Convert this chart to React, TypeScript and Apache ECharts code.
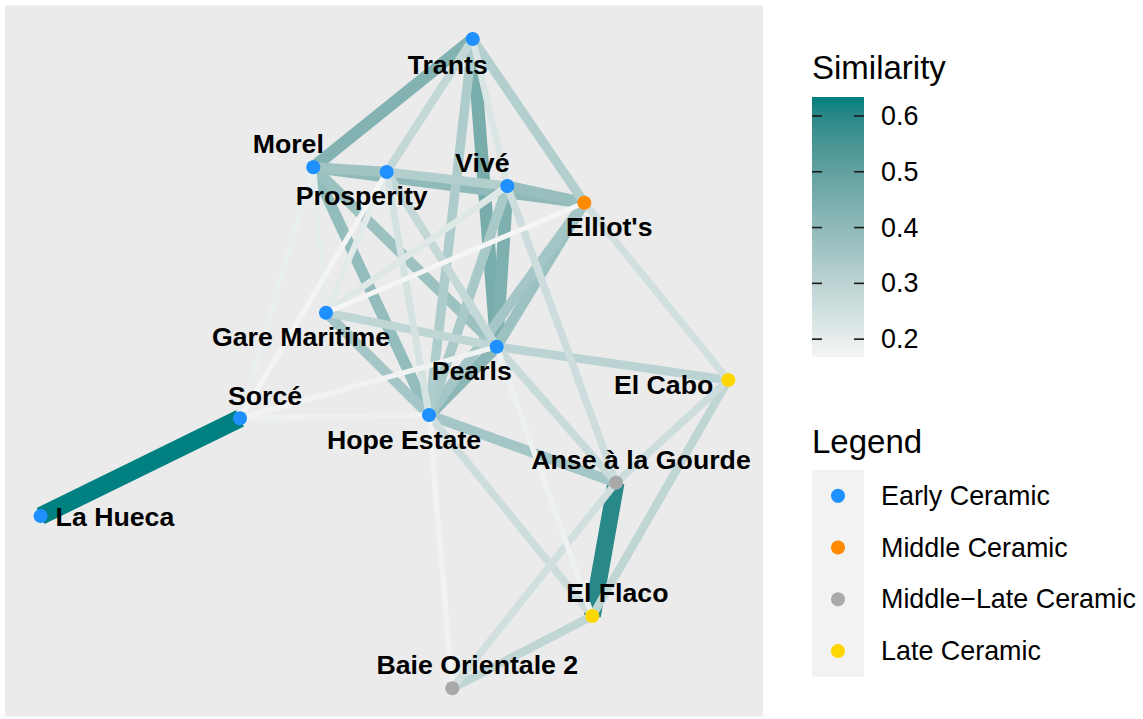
import React, { useEffect, useRef } from "react";
import * as echarts from "echarts";

// ---------- data ----------
const nodeNames = [
  "Trants", "Morel", "Prosperity", "Vivé", "Elliot's", "Gare Maritime", "Pearls",
  "El Cabo", "Sorcé", "Hope Estate", "Anse à la Gourde", "La Hueca", "El Flaco", "Baie Orientale 2",
];
// layout coordinates of the graph
const nodeX = [0.887, -0.707, 0.027, 1.233, 2.003, -0.58, 1.127, 3.443, -1.44, 0.45, 2.32, -3.434, 2.083, 0.683];
const nodeY = [3.22, 1.937, 1.89, 1.75, 1.583, 0.483, 0.143, -0.19, -0.573, -0.54, -1.217, -1.55, -2.55, -3.273];
const nodePeriod = [
  "Early Ceramic", "Early Ceramic", "Early Ceramic", "Early Ceramic", "Middle Ceramic", "Early Ceramic",
  "Early Ceramic", "Late Ceramic", "Early Ceramic", "Early Ceramic", "Middle−Late Ceramic", "Early Ceramic",
  "Late Ceramic", "Middle−Late Ceramic",
];
const periods = ["Early Ceramic", "Middle Ceramic", "Middle−Late Ceramic", "Late Ceramic"];

const edgeFrom = [
  "La Hueca", "Anse à la Gourde", "Trants", "Vivé", "Trants", "Pearls", "Morel", "Morel", "Vivé", "Elliot's",
  "Morel", "Morel", "Elliot's", "Gare Maritime", "Hope Estate", "Vivé", "Trants", "Trants", "Prosperity", "Pearls",
  "El Flaco", "El Cabo", "Gare Maritime", "Trants", "Prosperity", "Pearls", "El Cabo", "Vivé", "Hope Estate", "Elliot's",
  "Anse à la Gourde", "Prosperity", "Trants", "Gare Maritime", "Gare Maritime", "Morel", "Morel", "Sorcé", "Pearls",
  "Hope Estate", "Sorcé", "Sorcé", "Elliot's",
];
const edgeTo = [
  "Sorcé", "El Flaco", "Pearls", "Pearls", "Morel", "Hope Estate", "Elliot's", "Hope Estate", "Elliot's", "Pearls",
  "Pearls", "Prosperity", "Hope Estate", "Hope Estate", "Anse à la Gourde", "Hope Estate", "Elliot's", "Hope Estate", "Vivé", "El Cabo",
  "Baie Orientale 2", "El Flaco", "Pearls", "Prosperity", "Pearls", "Anse à la Gourde", "Anse à la Gourde", "Anse à la Gourde", "El Flaco", "El Cabo",
  "Baie Orientale 2", "Hope Estate", "Vivé", "Vivé", "Prosperity", "Gare Maritime", "Sorcé", "Hope Estate", "El Flaco",
  "Baie Orientale 2", "Pearls", "Prosperity", "Gare Maritime",
];
const similarity = [
  0.634, 0.6, 0.45, 0.44, 0.43, 0.41, 0.4, 0.39, 0.38, 0.37,
  0.37, 0.36, 0.35, 0.35, 0.35, 0.34, 0.32, 0.33, 0.32, 0.3,
  0.29, 0.29, 0.29, 0.28, 0.28, 0.27, 0.26, 0.26, 0.26, 0.25,
  0.25, 0.24, 0.23, 0.22, 0.21, 0.2, 0.195, 0.185, 0.185,
  0.178, 0.178, 0.172, 0.168,
];
const colorbarTicks = [0.2, 0.3, 0.4, 0.5, 0.6];

// ---------- styles ----------
const periodColors: Record<string, string> = {
  "Early Ceramic": "#1E90FF",
  "Middle Ceramic": "#FF8C00",
  "Middle−Late Ceramic": "#A9A9A9",
  "Late Ceramic": "#FFD700",
};
const labelNudge: Record<string, { dx: number; dy: number; align?: string }> = {
  "Trants": { dx: -25, dy: 26 },
  "Morel": { dx: -25, dy: -23 },
  "Prosperity": { dx: -25, dy: 24 },
  "Vivé": { dx: -25, dy: -23 },
  "Elliot's": { dx: 25, dy: 24 },
  "Gare Maritime": { dx: -25, dy: 24 },
  "Pearls": { dx: -25, dy: 24 },
  "El Cabo": { dx: -15, dy: 5, align: "right" },
  "Sorcé": { dx: 25, dy: -22 },
  "Hope Estate": { dx: -25, dy: 25 },
  "Anse à la Gourde": { dx: 25, dy: -23 },
  "La Hueca": { dx: 15, dy: 1, align: "left" },
  "El Flaco": { dx: 25, dy: -23 },
  "Baie Orientale 2": { dx: 25, dy: -23 },
};
const FONT = '"Liberation Sans", Arial, Helvetica, sans-serif';
const LOW = "#F5F5F5";
const HIGH = "#008080";

// panel in pixels
const PANEL = { left: 5, top: 5.5, right: 763, bottom: 716.5 };
const X_MIN = -3.79, X_MAX = 3.79, Y_MIN = -3.555, Y_MAX = 3.555;

// ---------- Lab colour interpolation (like scales::seq_gradient_pal) ----------
function hexToRgb(h: string) {
  const n = parseInt(h.slice(1), 16);
  return [(n >> 16) & 255, (n >> 8) & 255, n & 255];
}
function toLin(c: number) {
  c /= 255;
  return c <= 0.04045 ? c / 12.92 : Math.pow((c + 0.055) / 1.055, 2.4);
}
function fromLin(v: number) {
  const c = v <= 0.0031308 ? 12.92 * v : 1.055 * Math.pow(v, 1 / 2.4) - 0.055;
  return Math.round(Math.max(0, Math.min(1, c)) * 255);
}
const XN = 0.95047, YN = 1.0, ZN = 1.08883;
function f(t: number) { return t > 0.008856 ? Math.cbrt(t) : 7.787 * t + 16 / 116; }
function finv(t: number) { const t3 = t * t * t; return t3 > 0.008856 ? t3 : (t - 16 / 116) / 7.787; }
function hexToLab(h: string) {
  const [r8, g8, b8] = hexToRgb(h);
  const r = toLin(r8), g = toLin(g8), b = toLin(b8);
  const X = 0.4124 * r + 0.3576 * g + 0.1805 * b;
  const Y = 0.2126 * r + 0.7152 * g + 0.0722 * b;
  const Z = 0.0193 * r + 0.1192 * g + 0.9505 * b;
  const fx = f(X / XN), fy = f(Y / YN), fz = f(Z / ZN);
  return [116 * fy - 16, 500 * (fx - fy), 200 * (fy - fz)];
}
function labToHex(L: number, a: number, bb: number) {
  const fy = (L + 16) / 116, fx = a / 500 + fy, fz = fy - bb / 200;
  const X = finv(fx) * XN, Y = finv(fy) * YN, Z = finv(fz) * ZN;
  const r = 3.2406 * X - 1.5372 * Y - 0.4986 * Z;
  const g = -0.9689 * X + 1.8758 * Y + 0.0415 * Z;
  const b = 0.0557 * X - 0.204 * Y + 1.057 * Z;
  const hx = (v: number) => fromLin(v).toString(16).padStart(2, "0");
  return "#" + hx(r) + hx(g) + hx(b);
}
const lowLab = hexToLab(LOW), highLab = hexToLab(HIGH);
function gradient(t: number) {
  return labToHex(
    lowLab[0] + (highLab[0] - lowLab[0]) * t,
    lowLab[1] + (highLab[1] - lowLab[1]) * t,
    lowLab[2] + (highLab[2] - lowLab[2]) * t,
  );
}

export default function App() {
  const ref = useRef<HTMLDivElement>(null);
  useEffect(() => {
    if (!ref.current) return;
    const chart = echarts.init(ref.current, undefined, { renderer: "svg" });

    const sMin = Math.min(...similarity), sMax = Math.max(...similarity);
    const norm = (s: number) => (s - sMin) / (sMax - sMin);
    const idx = (n: string) => nodeNames.indexOf(n);

    const edgeData = similarity.map((s, i) => {
      const a = idx(edgeFrom[i]), b = idx(edgeTo[i]);
      return {
        coords: [[nodeX[a], nodeY[a]], [nodeX[b], nodeY[b]]],
        lineStyle: { color: gradient(norm(s)), width: 5 + 13 * norm(s), opacity: 1 },
      };
    });

    const scatterSeries = periods.map((p) => ({
      type: "scatter",
      name: p,
      symbol: "circle",
      symbolSize: 14,
      z: 5,
      silent: true,
      itemStyle: { color: periodColors[p], opacity: 1 },
      label: {
        show: true,
        formatter: "{b}",
        position: "inside",
        verticalAlign: "middle",
        color: "#000",
        fontWeight: "bold",
        fontSize: 26.7,
        fontFamily: FONT,
      },
      data: nodeNames
        .map((n, i) => ({ n, i }))
        .filter(({ i }) => nodePeriod[i] === p)
        .map(({ n, i }) => {
          const nd = labelNudge[n];
          return {
            name: n,
            value: [nodeX[i], nodeY[i]],
            label: { offset: [nd.dx, nd.dy], align: nd.align || "center" },
          };
        }),
    }));

    // colour bar geometry
    const barX = 812, barW = 52, barTop = 97, barBottom = 357;
    const yOf = (v: number) => barTop + ((sMax - v) / (sMax - sMin)) * (barBottom - barTop);
    const stops = [];
    for (let k = 0; k <= 20; k++) {
      const t = k / 20;
      stops.push({ offset: t, color: gradient(1 - t) });
    }
    const txt = (text: string, x: number, y: number, size: number) => ({
      type: "text", x, y,
      style: { text, font: `${size}px ${FONT}`, fill: "#000", align: "left", verticalAlign: "middle", textAlign: "left", textVerticalAlign: "middle" },
    });
    const graphic: any[] = [];
    graphic.push(txt("Similarity", 812, 67.5, 33));
    graphic.push({
      type: "rect", shape: { x: barX, y: barTop, width: barW, height: barBottom - barTop },
      style: { fill: new echarts.graphic.LinearGradient(0, 0, 0, 1, stops) },
    });
    colorbarTicks.forEach((v) => {
      const y = yOf(v);
      graphic.push({ type: "line", shape: { x1: barX, y1: y, x2: barX + 10, y2: y }, style: { stroke: "#1a1a1a", lineWidth: 1.6 } });
      graphic.push({ type: "line", shape: { x1: barX + barW - 10, y1: y, x2: barX + barW, y2: y }, style: { stroke: "#1a1a1a", lineWidth: 1.6 } });
      graphic.push(txt(v.toFixed(1), 881, y, 26.9));
    });

    // categorical legend
    const keyTop = 470, keyH = 51.7;
    graphic.push(txt("Legend", 812, 441, 33));
    graphic.push({
      type: "rect", shape: { x: 812, y: keyTop, width: 52, height: keyH * periods.length },
      style: { fill: "#F2F2F2" },
    });
    periods.forEach((p, k) => {
      const cy = keyTop + keyH * (k + 0.5);
      graphic.push({ type: "circle", shape: { cx: 838, cy, r: 7 }, style: { fill: periodColors[p] } });
      graphic.push(txt(p, 881, cy, 26.9));
    });

    chart.setOption({
      animation: false,
      backgroundColor: "#FFFFFF",
      grid: {
        left: PANEL.left, top: PANEL.top,
        width: PANEL.right - PANEL.left, height: PANEL.bottom - PANEL.top,
        show: true, backgroundColor: "#EBEBEB", borderWidth: 0,
      },
      xAxis: { type: "value", min: X_MIN, max: X_MAX, show: false },
      yAxis: { type: "value", min: Y_MIN, max: Y_MAX, show: false },
      series: [
        {
          type: "lines",
          coordinateSystem: "cartesian2d",
          silent: true,
          z: 1,
          lineStyle: { opacity: 1, curveness: 0, cap: "butt" },
          data: edgeData,
        },
        ...scatterSeries,
      ],
      graphic,
    } as any);

    return () => chart.dispose();
  }, []);

  return (
    <div
      ref={ref}
      style={{ position: "fixed", left: 0, top: 0, width: 1143, height: 719, background: "#fff" }}
    />
  );
}
